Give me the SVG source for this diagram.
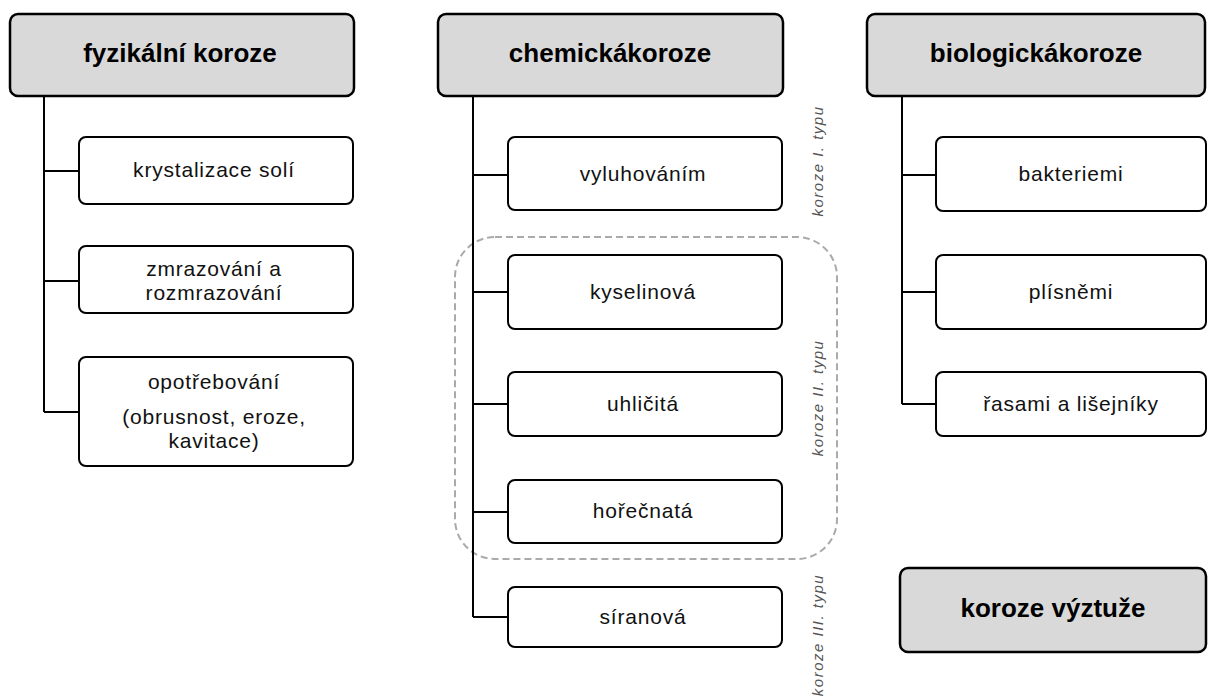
<svg xmlns="http://www.w3.org/2000/svg" width="1208" height="698" viewBox="0 0 1208 698">
<style>
.hdr{fill:#d9d9d9;stroke:#000;stroke-width:2.5}
.box{fill:#fff;stroke:#000;stroke-width:2}
.ht{font-family:"Liberation Sans",Arial,sans-serif;font-weight:bold;font-size:26px;fill:#000;text-anchor:middle}
.bt{font-family:"Liberation Sans",Arial,sans-serif;font-size:21px;letter-spacing:0.8px;fill:#111;text-anchor:middle}
.lab{font-family:"Liberation Sans",Arial,sans-serif;font-style:italic;font-size:15px;letter-spacing:1.5px;fill:#555;text-anchor:middle}
.con{fill:none;stroke:#000;stroke-width:2}
</style>
<rect x="0" y="0" width="1208" height="698" fill="#fff"/>
<g id="group-type2">
<rect x="455" y="237" width="382" height="322" rx="40" fill="none" stroke="#aaa" stroke-width="2" stroke-dasharray="7 4"/>
</g>
<g id="connectors">
<path class="con" d="M44 96V412M44 171H79M44 281H79M44 412H79"/>
<path class="con" d="M473 96V617M473 175H508M473 292H508M473 404H508M473 512H508M473 617H508"/>
<path class="con" d="M902 96V404M902 175H936M902 292H936M902 404H936"/>
</g>
<g id="n-fyz"><rect class="hdr" x="10" y="14" width="344" height="82" rx="8"/><text class="ht" x="180" y="62">fyzikální koroze</text></g>
<g id="n-krys"><rect class="box" x="79" y="137" width="274" height="67" rx="7"/><text class="bt" x="214" y="177">krystalizace solí</text></g>
<g id="n-zmr"><rect class="box" x="79" y="246" width="274" height="67" rx="7"/><text class="bt" x="214" y="276">zmrazování a</text><text class="bt" x="214" y="300">rozmrazování</text></g>
<g id="n-opo"><rect class="box" x="79" y="357" width="274" height="109" rx="7"/><text class="bt" x="214" y="389">opotřebování</text><text class="bt" x="214" y="424">(obrusnost, eroze,</text><text class="bt" x="214" y="448">kavitace)</text></g>
<g id="n-chem"><rect class="hdr" x="438" y="14" width="345" height="82" rx="8"/><text class="ht" x="610" y="62">chemickákoroze</text></g>
<g id="n-vyl"><rect class="box" x="508" y="137" width="274" height="73" rx="7"/><text class="bt" x="643" y="181">vyluhováním</text></g>
<g id="n-kys"><rect class="box" x="508" y="255" width="274" height="74" rx="7"/><text class="bt" x="643" y="299">kyselinová</text></g>
<g id="n-uhl"><rect class="box" x="508" y="372" width="274" height="64" rx="7"/><text class="bt" x="643" y="411">uhličitá</text></g>
<g id="n-hor"><rect class="box" x="508" y="480" width="274" height="63" rx="7"/><text class="bt" x="643" y="518">hořečnatá</text></g>
<g id="n-sir"><rect class="box" x="508" y="587" width="274" height="60" rx="7"/><text class="bt" x="643" y="624">síranová</text></g>
<g id="labels">
<text class="lab" transform="translate(823,161) rotate(-90)">koroze I. typu</text>
<text class="lab" transform="translate(823,398) rotate(-90)">koroze II. typu</text>
<text class="lab" transform="translate(823,635) rotate(-90)">koroze III. typu</text>
</g>
<g id="n-bio"><rect class="hdr" x="867" y="14" width="338" height="82" rx="8"/><text class="ht" x="1036" y="62">biologickákoroze</text></g>
<g id="n-bak"><rect class="box" x="936" y="137" width="270" height="74" rx="7"/><text class="bt" x="1071" y="181">bakteriemi</text></g>
<g id="n-pli"><rect class="box" x="936" y="255" width="270" height="74" rx="7"/><text class="bt" x="1071" y="299">plísněmi</text></g>
<g id="n-ras"><rect class="box" x="936" y="372" width="270" height="64" rx="7"/><text class="bt" x="1071" y="411">řasami a lišejníky</text></g>
<g id="n-vyz"><rect class="hdr" x="900" y="568" width="306" height="84" rx="8"/><text class="ht" x="1053" y="617">koroze výztuže</text></g>
</svg>
